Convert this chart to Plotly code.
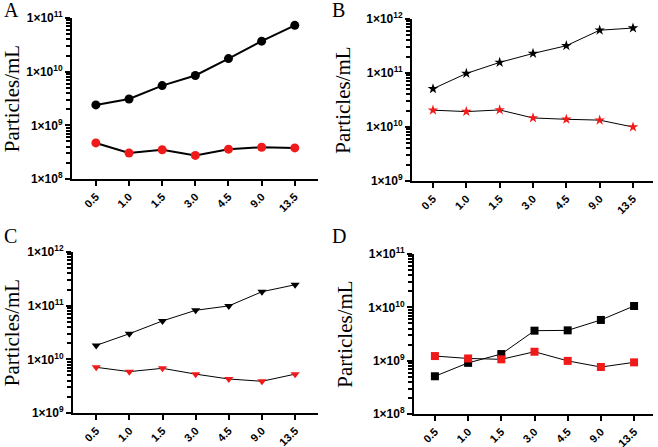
import plotly.graph_objects as go
from plotly.subplots import make_subplots

doses = ["0.5", "1.0", "1.5", "3.0", "4.5", "9.0", "13.5"]

# panel A
a_black = [2.4e9, 3.1e9, 5.5e9, 8.5e9, 1.75e10, 3.7e10, 7.3e10]
a_red = [4.7e8, 3.05e8, 3.5e8, 2.75e8, 3.6e8, 3.9e8, 3.8e8]
# panel B
b_black = [5.1e10, 9.8e10, 1.57e11, 2.3e11, 3.2e11, 6.2e11, 6.8e11]
b_red = [2.05e10, 1.93e10, 2.07e10, 1.47e10, 1.39e10, 1.34e10, 1.0e10]
# panel C
c_black = [1.82e10, 3.0e10, 5.2e10, 8.2e10, 9.9e10, 1.82e11, 2.45e11]
c_red = [7.1e9, 5.9e9, 6.8e9, 5.3e9, 4.3e9, 3.9e9, 5.3e9]
# panel D
d_black = [5.1e8, 9.1e8, 1.33e9, 3.65e9, 3.7e9, 5.8e9, 1.06e10]
d_red = [1.22e9, 1.1e9, 1.06e9, 1.47e9, 0.99e9, 7.6e8, 9.3e8]

RED = "#f01a1a"

fig = make_subplots(rows=2, cols=2)

panels = [
    (1, 1, a_black, a_red, "circle", 9, 2),
    (1, 2, b_black, b_red, "star", 8, 1),
    (2, 1, c_black, c_red, "triangle-down", 8, 1),
    (2, 2, d_black, d_red, "square", 8, 1),
]
for r, c, blk, red, sym, ms, lw in panels:
    fig.add_trace(go.Scatter(x=doses, y=blk, mode="lines+markers",
                             line=dict(color="black", width=lw),
                             marker=dict(symbol=sym, size=ms, color="black")),
                  row=r, col=c)
    fig.add_trace(go.Scatter(x=doses, y=red, mode="lines+markers",
                             line=dict(color="black", width=lw),
                             marker=dict(symbol=sym, size=ms, color=RED)),
                  row=r, col=c)

W, H = 658, 447

def dom_x(a, b):
    return [a / W, b / W]

def dom_y(top, bot):
    return [1 - bot / H, 1 - top / H]

def ylabels(lo, hi):
    vals = [10 ** k for k in range(lo, hi + 1)]
    txt = ["<b>1×10<sup>%d</sup></b>" % k for k in range(lo, hi + 1)]
    minor = [m * 10 ** k for k in range(lo, hi) for m in range(2, 10)]
    return vals, txt, minor

axes = [
    ("xaxis", "yaxis", dom_x(72, 318), dom_y(18, 179), [-0.72, 6.7], (8, 11)),
    ("xaxis2", "yaxis2", dom_x(412, 653), dom_y(19, 181), [-0.63, 6.6], (9, 12)),
    ("xaxis3", "yaxis3", dom_x(73, 318), dom_y(252, 413), [-0.7, 6.69], (9, 12)),
    ("xaxis4", "yaxis4", dom_x(414, 653), dom_y(254, 414), [-0.63, 6.57], (8, 11)),
]
xfont = dict(family="Liberation Sans", size=11, color="black")
yfont = dict(family="Liberation Sans", size=12, color="black")
for xa, ya, dx, dy, xr, (lo, hi) in axes:
    tv, tt, mv = ylabels(lo, hi)
    fig.layout[xa].update(domain=dx, range=xr, type="category", automargin=False,
                          showline=True, linecolor="black", linewidth=2,
                          ticks="outside", ticklen=5, tickwidth=2, tickcolor="black",
                          tickangle=-45, tickfont=xfont,
                          tickvals=doses, ticktext=["<b>%s</b>" % d for d in doses],
                          showgrid=False, zeroline=False)
    fig.layout[ya].update(domain=dy, type="log", range=[lo, hi], automargin=False,
                          showline=True, linecolor="black", linewidth=2,
                          ticks="outside", ticklen=5, tickwidth=2, tickcolor="black",
                          tickvals=tv, ticktext=tt, tickfont=yfont,
                          minor=dict(ticks="outside", ticklen=4, tickwidth=1.5,
                                     tickcolor="black", tickvals=mv, showgrid=False),
                          showgrid=False, zeroline=False,
                          title=dict(text="Particles/mL", standoff=10,
                                     font=dict(family="Liberation Serif", size=21,
                                               color="black")))

letters = [("A", 2, -3), ("B", 330, -3), ("C", 2, 223), ("D", 330, 223)]
for t, px, py in letters:
    fig.add_annotation(text=t, x=px / W, y=1 - py / H, xref="paper", yref="paper",
                       xanchor="left", yanchor="top", showarrow=False,
                       font=dict(family="Liberation Serif", size=20, color="black"))

fig.update_layout(width=W, height=H, margin=dict(l=0, r=0, t=0, b=0),
                  plot_bgcolor="white", paper_bgcolor="white", showlegend=False)

# drop the page's default body margin so the figure sits at the window corner
fig.write_html("out.html", config={"displayModeBar": False},
               post_script="document.body.style.margin='0';")
